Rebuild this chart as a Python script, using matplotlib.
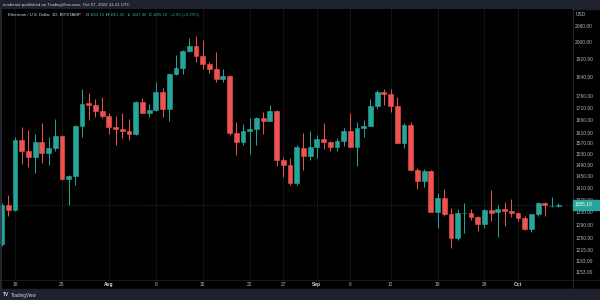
import matplotlib
matplotlib.use("Agg")
import matplotlib.pyplot as plt
import matplotlib.dates as mdates
from matplotlib.patches import Rectangle
from matplotlib.ticker import NullLocator
import pandas as pd

plt.rcParams["font.family"] = ["Liberation Sans", "DejaVu Sans"]

# ---------------- data ----------------
dates = pd.date_range("2022-07-16", "2022-10-07", freq="D")

opens = [1233, 1355, 1338, 1582, 1542, 1520, 1576, 1535, 1551, 1598,
         1442, 1452, 1638, 1729, 1722, 1696, 1677, 1631, 1626, 1618,
         1607, 1735, 1690, 1701, 1777, 1703, 1854, 1882, 1959, 1983,
         1936, 1899, 1878, 1833, 1845, 1608, 1576, 1618, 1626, 1667,
         1657, 1696, 1508, 1490, 1426, 1551, 1523, 1555, 1585, 1576,
         1557, 1580, 1618, 1557, 1627, 1637, 1718, 1777, 1767, 1717,
         1572, 1640, 1473, 1435, 1470, 1333, 1376, 1325, 1250, 1327,
         1328, 1317, 1294, 1338, 1331, 1340, 1336, 1329, 1311, 1278,
         1324, 1362, 1351, 1352.1]
highs = [1360, 1387, 1595, 1631, 1621, 1605, 1647, 1595, 1663, 1602,
         1456, 1640, 1787, 1770, 1745, 1756, 1690, 1676, 1687, 1663,
         1738, 1749, 1725, 1820, 1791, 1860, 1940, 1962, 2019, 2031,
         2011, 1909, 1956, 1875, 1848, 1653, 1644, 1667, 1672, 1694,
         1722, 1700, 1520, 1514, 1564, 1608, 1618, 1602, 1649, 1580,
         1590, 1627, 1687, 1653, 1660, 1745, 1783, 1787, 1787, 1756,
         1649, 1653, 1478, 1475, 1472, 1392, 1406, 1343, 1340, 1362,
         1340, 1320, 1340, 1404, 1355, 1365, 1372, 1333, 1318, 1326,
         1365, 1365, 1381, 1361.6]
lows = [1228, 1320, 1335, 1494, 1482, 1463, 1498, 1490, 1540, 1436,
        1355, 1421, 1595, 1660, 1671, 1668, 1605, 1564, 1589, 1582,
        1600, 1688, 1671, 1698, 1671, 1657, 1850, 1854, 1955, 1909,
        1875, 1857, 1820, 1820, 1600, 1527, 1564, 1530, 1564, 1605,
        1655, 1487, 1449, 1422, 1422, 1473, 1508, 1514, 1549, 1540,
        1542, 1559, 1555, 1487, 1592, 1635, 1706, 1722, 1694, 1570,
        1551, 1470, 1406, 1413, 1330, 1280, 1318, 1221, 1246, 1265,
        1306, 1271, 1280, 1303, 1255, 1289, 1317, 1303, 1275, 1269,
        1320, 1320, 1346, 1347.4]
closes = [1355, 1338, 1582, 1542, 1520, 1576, 1535, 1551, 1598, 1440,
          1452, 1638, 1725, 1722, 1696, 1677, 1631, 1626, 1618, 1605,
          1735, 1690, 1701, 1777, 1703, 1854, 1882, 1959, 1983, 1936,
          1899, 1878, 1833, 1845, 1608, 1576, 1618, 1626, 1667, 1657,
          1696, 1508, 1490, 1426, 1555, 1523, 1555, 1585, 1576, 1557,
          1580, 1618, 1557, 1627, 1637, 1718, 1774, 1767, 1717, 1572,
          1640, 1473, 1435, 1470, 1333, 1376, 1325, 1250, 1327, 1328,
          1317, 1294, 1338, 1329, 1340, 1336, 1329, 1311, 1278, 1324,
          1362, 1353, 1352, 1355.1]

price_ticks = [2080, 2000, 1920, 1840, 1760, 1710, 1660, 1610, 1570, 1530,
               1490, 1450, 1410, 1370, 1330, 1290, 1250, 1215, 1183, 1153]
time_tick_dates = ["2022-07-18", "2022-07-25", "2022-08-01", "2022-08-08",
                   "2022-08-15", "2022-08-22", "2022-08-27", "2022-09-01",
                   "2022-09-06", "2022-09-12", "2022-09-19", "2022-09-26",
                   "2022-10-01"]
time_tick_labels = ["18", "25", "Aug", "8", "15", "22", "27", "Sep",
                    "6", "12", "19", "26", "Oct"]
last_price = 1355.10
header = "ovsbeast published on TradingView.com, Oct 07, 2022 11:21 UTC"
symbol = "Ethereum / U.S. Dollar, 1D, BITSTAMP"
ohlc_text = [("O", "1352.10"), ("H", "1361.60"), ("L", "1347.40"), ("C", "1355.10")]
change_text = "+2.60 (+0.19%)"

# ---------------- styling ----------------
UP = "#26a69a"
DOWN = "#ef5350"
BG = "#000000"
PANEL = "#1e222d"
TXT = "#b2b5be"
W, H = 600, 300

fig = plt.figure(figsize=(6, 3), dpi=100, facecolor=BG)

def fx(px):
    return px / W

def fy(py):
    return 1 - py / H

ax_left, ax_right, ax_top, ax_bot = 0, 572, 9, 279
ax = fig.add_axes([fx(ax_left), fy(ax_bot), fx(ax_right - ax_left), (ax_bot - ax_top) / H])
ax.set_facecolor(BG)
ax.set_yscale("log")
ax.set_ylim(1133.8, 2166.5)

xnum = mdates.date2num(dates)
ref = mdates.date2num(pd.Timestamp("2022-07-18"))
ax.set_xlim(ref - 2.236, ref + 83.05)

# grid (vertical, faint)
tick_nums = mdates.date2num(pd.to_datetime(time_tick_dates))
for t in tick_nums:
    ax.axvline(t, color="#161616", lw=0.6, zorder=0)

# last price line
ax.axhline(last_price, color="#1c2e2c", lw=0.6, ls=(0, (1, 1)), zorder=1)

for x, o, h, l, c in zip(xnum, opens, highs, lows, closes):
    col = UP if c >= o else DOWN
    ax.vlines(x, l, h, color=col, lw=0.7, zorder=2)
    ax.bar(x, abs(c - o), bottom=min(o, c), width=0.72, color=col,
           edgecolor=col, linewidth=0.4, zorder=3)

# axes styling
for s in ax.spines.values():
    s.set_visible(False)
ax.yaxis.tick_right()
ax.yaxis.set_minor_locator(NullLocator())
ax.set_yticks(price_ticks)
ax.set_yticklabels([f"{p:.2f}" for p in price_ticks])
ax.tick_params(axis="y", length=0, pad=2.3, labelsize=3.5, labelcolor=TXT)
ax.set_xticks(tick_nums)
ax.set_xticklabels(time_tick_labels)
ax.tick_params(axis="x", length=0, pad=2.2, labelsize=3.5, labelcolor=TXT)
for lbl in ax.get_xticklabels():
    if lbl.get_text() in ("Aug", "Sep", "Oct"):
        lbl.set_fontweight("bold")
        lbl.set_color("#d1d4dc")

# separators
fig.add_artist(plt.Line2D([fx(572.5), fx(572.5)], [fy(9), fy(289)], color="#2a2e39", lw=0.6))
fig.add_artist(plt.Line2D([0, 1], [fy(279.5), fy(279.5)], color="#1a1d25", lw=0.6))
fig.add_artist(plt.Line2D([fx(0.8), fx(0.8)], [fy(9), fy(289)], color="#2a2e39", lw=1.2))

# header / footer panels
fig.add_artist(Rectangle((0, fy(9)), 1, 9 / H, transform=fig.transFigure, color=PANEL, zorder=0))
fig.add_artist(Rectangle((0, 0), 1, 11 / H, transform=fig.transFigure, color=PANEL, zorder=0))
fig.text(fx(3), fy(4.6), header, fontsize=3.2, color="#d1d4dc", va="center", ha="left")

# legend line
fig.text(fx(8), fy(15), symbol, fontsize=3.1, color="#d1d4dc", va="center", ha="left")
xs = [86, 106, 128, 149]
for xp, (k, v) in zip(xs, ohlc_text):
    fig.text(fx(xp), fy(15), k, fontsize=3.1, color="#d1d4dc", va="center", ha="left")
    fig.text(fx(xp + 3.5), fy(15), v, fontsize=3.1, color=UP, va="center", ha="left")
fig.text(fx(170), fy(15), change_text, fontsize=3.1, color=UP, va="center", ha="left")

# price axis header
fig.text(fx(576), fy(14), "USD", fontsize=3.5, color=TXT, va="center", ha="left")

# last price tag
fig.add_artist(Rectangle((fx(572.5), fy(209.5)), fx(26), 9.5 / H, transform=fig.transFigure,
                         color=UP, zorder=5))
fig.text(fx(575), fy(204.7), f"{last_price:.2f}", fontsize=3.5, color="white",
         va="center", ha="left", zorder=6)

# footer logo
fig.text(fx(2.5), fy(295), "TV", fontsize=3.5, color="#d1d4dc", fontweight="bold",
         va="center", ha="left")
fig.text(fx(11), fy(295), "TradingView", fontsize=3.3, color="#d1d4dc", va="center", ha="left")

fig.savefig("out.png", dpi=100, facecolor=BG)
